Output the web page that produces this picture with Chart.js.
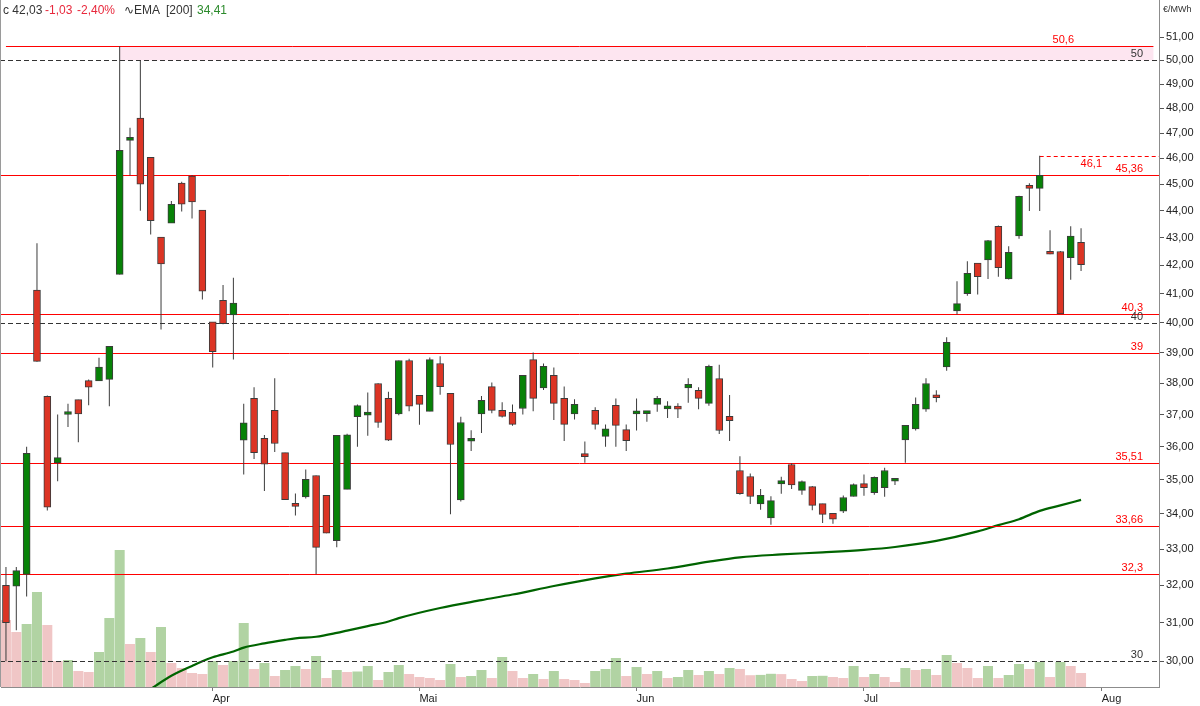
<!DOCTYPE html>
<html lang="de">
<head>
<meta charset="UTF-8">
<title>Preisverlauf €/MWh</title>
<script src="https://cdn.jsdelivr.net/npm/chart.js"></script>
<style>
  html, body { margin: 0; padding: 0; background: #fff; }
  #wrap { width: 1200px; height: 706px; }
</style>
</head>
<body>
<div id="wrap"><canvas id="chart" width="1200" height="706"></canvas></div>
<script>
// daily candles (index 0 = first trading day shown)
const opens = [32.0, 31.98, 32.3, 41.13, 37.58, 35.51, 37.0, 37.47, 38.08, 38.07,
  38.12, 41.68, 46.71, 47.6, 46.04, 43.02, 43.54, 45.04, 45.31, 44.02,
  40.03, 40.77, 40.27, 36.2, 37.51, 36.26, 37.13, 35.82, 34.31, 34.5,
  35.13, 34.54, 33.24, 34.72, 36.93, 36.98, 37.99, 37.51, 37.02, 38.74,
  37.61, 37.1, 38.64, 37.67, 34.41, 36.17, 37.02, 37.89, 37.13, 37.07,
  37.19, 38.77, 37.85, 38.25, 37.51, 37.02, 35.77, 37.13, 36.32, 37.29,
  36.53, 37.02, 37.03, 37.32, 37.18, 37.2, 37.85, 37.77, 37.35, 38.15,
  36.94, 35.28, 35.1, 34.29, 33.89, 34.88, 35.46, 34.69, 34.8, 34.3,
  34.02, 34.08, 34.51, 34.89, 34.62, 34.77, 34.96, 36.21, 36.55, 37.17,
  37.61, 38.53, 40.41, 41.0, 42.08, 42.2, 43.42, 41.52, 43.07, 44.92,
  44.84, 42.42, 42.5, 42.28, 42.83];
const highs = [32.5, 32.5, 36.0, 42.8, 37.6, 37.0, 37.34, 37.47, 38.12, 38.83,
  39.21, 50.6, 47.21, 50.0, 46.04, 43.02, 44.36, 45.1, 45.36, 44.02,
  40.03, 41.31, 41.56, 37.34, 37.87, 36.36, 38.16, 35.82, 34.6, 35.31,
  35.13, 34.54, 36.35, 36.4, 37.32, 37.7, 38.0, 37.72, 38.74, 38.8,
  37.61, 38.84, 38.88, 37.67, 36.93, 36.51, 37.59, 38.02, 37.39, 37.32,
  38.25, 39.0, 38.64, 38.51, 37.89, 37.48, 36.16, 37.23, 36.69, 37.51,
  36.69, 37.51, 37.1, 37.59, 37.42, 37.36, 38.16, 37.87, 38.6, 38.6,
  37.62, 35.71, 35.19, 34.73, 34.52, 35.09, 35.5, 34.98, 34.82, 34.3,
  34.02, 34.54, 34.89, 35.16, 35.1, 35.36, 35.04, 36.66, 37.54, 38.16,
  37.77, 39.51, 41.44, 42.15, 42.08, 42.92, 43.45, 42.69, 44.56, 45.04,
  46.1, 43.27, 42.52, 43.42, 43.35];
const lows = [30.0, 30.8, 31.7, 38.7, 34.1, 34.96, 36.61, 36.14, 37.29, 38.07,
  37.26, 41.68, 45.34, 44.0, 43.12, 39.77, 43.54, 43.97, 43.71, 40.8,
  38.51, 39.95, 38.77, 35.16, 35.63, 34.67, 35.84, 34.42, 33.96, 34.45,
  32.3, 33.45, 33.05, 34.72, 36.0, 36.34, 36.59, 36.18, 36.98, 37.1,
  36.68, 37.1, 37.63, 33.99, 34.36, 35.87, 36.42, 37.04, 36.91, 36.65,
  37.0, 37.1, 37.78, 36.83, 36.18, 36.84, 35.51, 36.53, 36.0, 36.0,
  35.87, 36.5, 36.77, 37.09, 36.89, 36.89, 37.37, 37.17, 37.28, 36.39,
  36.18, 34.56, 34.29, 34.12, 33.69, 34.59, 34.73, 34.56, 34.11, 33.74,
  33.72, 34.03, 34.51, 34.53, 34.56, 34.5, 34.85, 35.51, 36.5, 37.09,
  37.39, 38.4, 40.28, 40.93, 40.97, 41.52, 41.6, 41.5, 42.96, 43.99,
  43.99, 42.4, 40.3, 41.49, 41.8];
const closes = [31.0, 32.4, 35.8, 38.71, 34.2, 35.67, 37.02, 37.02, 37.87, 38.52,
  39.21, 46.32, 46.83, 45.0, 43.63, 42.05, 44.24, 44.24, 44.33, 41.09,
  39.03, 39.97, 40.68, 36.74, 35.82, 35.47, 36.1, 34.42, 34.22, 35.02,
  33.05, 33.45, 36.35, 36.37, 37.28, 37.0, 36.75, 36.2, 38.74, 37.26,
  37.32, 38.77, 37.89, 36.07, 36.75, 36.19, 37.45, 37.13, 36.94, 36.69,
  38.25, 37.51, 38.55, 37.35, 36.69, 37.32, 35.7, 36.69, 36.55, 36.66,
  36.19, 37.03, 37.04, 37.51, 37.2, 37.17, 37.96, 37.51, 38.55, 36.5,
  36.81, 34.59, 34.51, 34.54, 34.39, 34.98, 34.85, 34.95, 34.25, 33.99,
  33.85, 34.48, 34.86, 34.77, 35.08, 35.28, 34.98, 36.66, 37.32, 37.99,
  37.53, 39.34, 40.66, 41.72, 41.6, 42.9, 41.92, 42.47, 44.54, 44.84,
  45.34, 42.4, 40.3, 43.06, 42.03];
// traded volume, relative units
const volumes = [67, 55, 63, 95, 62, 26, 27, 16, 15, 35,
  69, 137, 43, 49, 35, 60, 24, 19, 14, 13,
  26, 22, 26, 64, 18, 24, 11, 17, 21, 18,
  31, 9, 17, 15, 15.5, 21, 7, 15, 22, 13,
  10, 9, 7, 23, 10, 11, 17, 9, 30, 16,
  9, 13, 8, 16, 8, 7, 4, 16, 18, 29,
  11, 20, 13, 16, 9, 10, 17, 12, 16, 13,
  19, 18, 11.8, 12.1, 13.2, 12.9, 8, 6, 11, 11.2,
  10, 9, 21, 10, 13, 10, 5, 19, 17, 18,
  12, 32, 24, 19, 9, 21, 9, 12, 23, 18,
  25, 10, 25, 21, 14];
// EMA 200, read at these candles
const emaIdx = [14, 16, 18, 19, 20, 22, 23, 25, 27, 28, 30, 32, 33, 35, 37, 38,
  42, 46, 49, 53, 57, 60, 64, 68, 71, 75, 79, 83, 86, 90, 94, 96, 98, 100, 102, 104];
const emaVal = [29.3, 29.63, 29.88, 30.0, 30.1, 30.25, 30.35, 30.46, 30.55, 30.59, 30.63, 30.73, 30.79, 30.91, 31.03, 31.12,
  31.39, 31.6, 31.75, 31.98, 32.19, 32.32, 32.46, 32.65, 32.77, 32.85, 32.91, 32.98, 33.06, 33.23, 33.5, 33.68,
  33.85, 34.09, 34.25, 34.41];

const monthIdx = [20, 40, 61, 83, 106];
const monthLabels = ['Apr', 'Mai', 'Jun', 'Jul', 'Aug'];
const priceTicks = [30, 31, 32, 33, 34, 35, 36, 37, 38, 39, 40, 41, 42, 43, 44, 45, 46, 47, 48, 49, 50, 51];

// horizontal levels
const supportLevels = [50.6, 45.36, 40.3, 39, 35.51, 33.66, 32.3];
const roundLevels = [50, 40, 30];
const peakLevel = 46.1, peakIdx = 100;
const zoneLow = 50, zoneHigh = 50.6, zoneIdx = 11;

Chart.defaults.font.family = "'Liberation Sans', Arial, sans-serif";

const UP = '#078207', DOWN = '#dc3424', EDGE = '#3b3b3b';
const VOL_UP = '#b1d3a3', VOL_DOWN = '#f0c6c6';
const fmt = v => String(v).replace('.', ',');

const idx = closes.map((_, i) => i);
const bodies = idx.map(i => ({ x: i, y: [opens[i], closes[i]] }));
const wicks = idx.map(i => ({ x: i, y: [lows[i], highs[i]] }));
const vols = idx.map(i => ({ x: i, y: volumes[i] }));
const ema = emaIdx.map((x, k) => ({ x: x, y: emaVal[k] }));

const bodyColors = idx.map(i => closes[i] >= opens[i] ? UP : DOWN);
const volColors = idx.map(i => i > 0 && volumes[i] > volumes[i - 1] ? VOL_UP : VOL_DOWN);

function hline(ctx, x0, x1, py) {
    const yy = Math.round(py) + 0.5;
    ctx.beginPath();
    ctx.moveTo(x0, yy);
    ctx.lineTo(x1, yy);
    ctx.stroke();
}

const overlay = {
    id: 'overlay',
    afterDatasetDraw(chart, args) {
        if (args.index !== 2) return; // right after the EMA line
        const { ctx, chartArea: a, scales: { x, y } } = chart;
        const endX = x.getPixelForValue(111);
        ctx.save();
        // zone
        const zx = x.getPixelForValue(zoneIdx);
        const zt = y.getPixelForValue(zoneHigh), zb = y.getPixelForValue(zoneLow);
        ctx.fillStyle = '#fde5f0';
        ctx.fillRect(zx, zt, endX - zx, zb - zt);

        ctx.lineWidth = 1;
        ctx.strokeStyle = '#ff0000';
        supportLevels.forEach((v, k) => {
            const x0 = k === 0 ? x.getPixelForValue(0) : 0;
            const x1 = k === 0 ? endX : a.right;
            hline(ctx, x0, x1, y.getPixelForValue(v));
        });
        ctx.setLineDash([4, 3]);
        hline(ctx, x.getPixelForValue(peakIdx), a.right, y.getPixelForValue(peakLevel));
        ctx.strokeStyle = '#333';
        ctx.setLineDash([5, 3]);
        roundLevels.forEach(v => hline(ctx, 0, a.right, y.getPixelForValue(v)));
        ctx.restore();
    },
    afterDatasetsDraw(chart) {
        const { ctx, chartArea: a, scales: { y } } = chart;
        ctx.save();
        ctx.font = "11px 'Liberation Sans', Arial, sans-serif";
        ctx.textAlign = 'right';
        ctx.textBaseline = 'alphabetic';
        ctx.fillStyle = '#ff0000';
        supportLevels.forEach((v, k) => {
            const rx = k === 0 ? a.right - 85 : a.right - 16;
            ctx.fillText(fmt(v), rx, Math.round(y.getPixelForValue(v)) - 3);
        });
        ctx.fillText(fmt(peakLevel), a.right - 57, Math.round(y.getPixelForValue(peakLevel)) + 11);
        ctx.fillStyle = '#333';
        roundLevels.forEach(v => ctx.fillText(fmt(v), a.right - 16, Math.round(y.getPixelForValue(v)) - 3));
        ctx.restore();
    },
    afterDraw(chart) {
        const { ctx, chartArea: a } = chart;
        ctx.save();
        ctx.fillStyle = '#9a9a9a';
        ctx.fillRect(0, 0, 1, a.bottom);
        ctx.textBaseline = 'middle';
        ctx.textAlign = 'left';
        ctx.font = "12px 'Liberation Sans', Arial, sans-serif";
        const parts = [
            ['c 42,03', '#333', 3], ['-1,03', '#e8283c', 45], ['-2,40%', '#e8283c', 77],
            ['\u223FEMA', '#333', 124], ['[200]', '#333', 166], ['34,41', '#2b8a2b', 197]
        ];
        parts.forEach(p => { ctx.fillStyle = p[1]; ctx.fillText(p[0], p[2], 11); });
        ctx.font = "9px 'Liberation Sans', Arial, sans-serif";
        ctx.fillStyle = '#333';
        ctx.fillText('\u20AC/MWh', a.right + 4, 10);
        ctx.restore();
    }
};

new Chart(document.getElementById('chart'), {
    type: 'bar',
    data: {
        datasets: [
            {
                label: 'body', data: bodies, order: 0, grouped: false,
                yAxisID: 'y', backgroundColor: bodyColors, borderColor: EDGE,
                borderWidth: 1, borderSkipped: false, barThickness: 7, minBarLength: 3
            },
            {
                label: 'wick', data: wicks, order: 1, grouped: false,
                yAxisID: 'y', backgroundColor: EDGE, borderWidth: 0,
                barThickness: 1, inflateAmount: 0
            },
            {
                type: 'line', label: 'EMA [200]', data: ema, order: 2, yAxisID: 'y',
                borderColor: '#006400', borderWidth: 2.2, pointRadius: 0,
                cubicInterpolationMode: 'monotone', fill: false
            },
            {
                label: 'Volumen', data: vols, order: 3, grouped: false,
                yAxisID: 'yv', backgroundColor: volColors, borderWidth: 0,
                barThickness: 10, inflateAmount: 0
            }
        ]
    },
    options: {
        responsive: false,
        animation: false,
        events: [],
        layout: { padding: { left: 1, right: 0, top: 0, bottom: 0 } },
        plugins: { legend: { display: false }, tooltip: { enabled: false } },
        scales: {
            x: {
                type: 'linear', min: -0.48, max: 111.54, bounds: 'data',
                offset: false,
                afterBuildTicks: s => { s.ticks = monthIdx.map(v => ({ value: v })); },
                afterFit: s => { s.height = 19; s.paddingLeft = 0; s.paddingRight = 0; },
                ticks: {
                    autoSkip: false, maxRotation: 0, align: 'start', padding: 1,
                    color: '#222', font: { size: 11 },
                    callback: (v, i) => monthLabels[i]
                },
                grid: { offset: false, drawOnChartArea: false, tickLength: 4, color: '#777' },
                border: { color: '#8c8c8c', width: 1 }
            },
            y: {
                type: 'logarithmic', position: 'right', min: 29.35, max: 52.63, bounds: 'data',
                afterBuildTicks: s => { s.ticks = priceTicks.map(v => ({ value: v })); },
                afterFit: s => { s.width = 41; s.paddingTop = 0; s.paddingBottom = 0; },
                ticks: {
                    padding: 2, color: '#222', font: { size: 11 },
                    callback: v => v.toFixed(2).replace('.', ',')
                },
                grid: { drawOnChartArea: false, tickLength: 5, color: '#555' },
                border: { color: '#8c8c8c', width: 1 }
            },
            yv: { type: 'linear', display: false, min: 0, max: 687 }
        }
    },
    plugins: [overlay]
});
</script>
</body>
</html>
